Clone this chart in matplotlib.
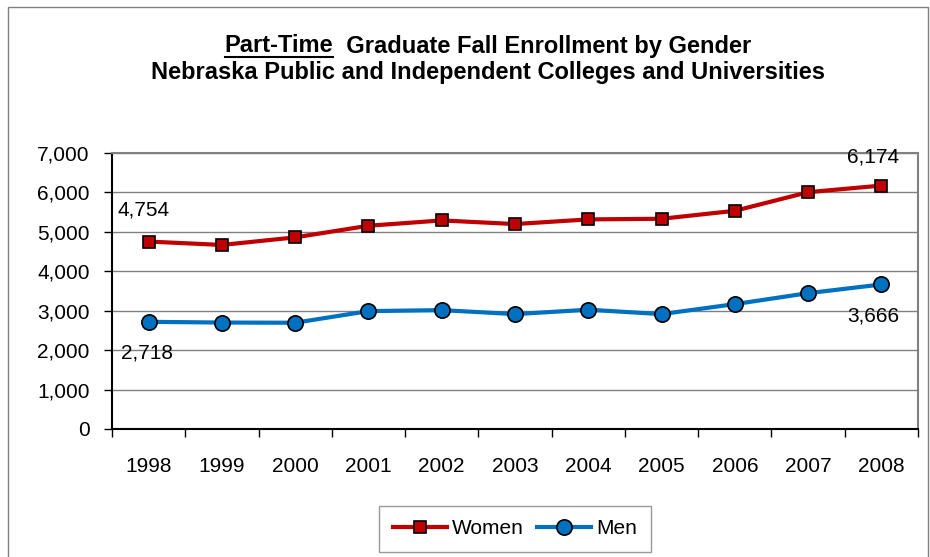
import numpy as np
import matplotlib.pyplot as plt
from matplotlib.lines import Line2D
from matplotlib.patches import Rectangle

plt.rcParams['font.family'] = ['Liberation Sans', 'DejaVu Sans']

years = ['1998', '1999', '2000', '2001', '2002', '2003', '2004', '2005', '2006', '2007', '2008']
women = [4754, 4668, 4860, 5155, 5290, 5198, 5316, 5332, 5534, 6006, 6174]
men = [2718, 2700, 2695, 2990, 3015, 2914, 3025, 2914, 3167, 3445, 3666]

W, H = 930, 557
fig = plt.figure(figsize=(W / 100, H / 100), dpi=100)

# outer chart border
fig.patches.append(Rectangle((8 / W, -0.01), (928 - 8) / W, 1 - 7 / H + 0.01,
                             transform=fig.transFigure, fill=False,
                             edgecolor='#808080', linewidth=1.0))

ax = fig.add_axes([112 / W, 1 - 429 / H, (918 - 112) / W, (429 - 153) / H])
x = np.arange(len(years))

ax.plot(x, women, color='#c00000', linewidth=3, marker='s', markersize=9,
        markerfacecolor='#c00000', markeredgecolor='black', markeredgewidth=1.2,
        label='Women', zorder=3)
ax.plot(x, men, color='#0070c0', linewidth=3, marker='o', markersize=11,
        markerfacecolor='#0070c0', markeredgecolor='black', markeredgewidth=1.2,
        label='Men', zorder=3)

fs = 15
ax.set_xlim(-0.5, len(years) - 0.5)
ax.set_ylim(0, 7000)
ax.set_yticks(range(0, 7001, 1000))
ax.set_yticklabels(['{:,}'.format(v) for v in range(0, 7001, 1000)], fontsize=fs)
ax.set_xticks(x)
ax.set_xticklabels(years, fontsize=fs)
ax.tick_params(axis='x', length=0, pad=20)
ax.set_xticks(np.arange(-0.5, len(years), 1), minor=True)
ax.tick_params(axis='x', which='minor', length=6, width=1, color='black')
ax.tick_params(axis='y', length=6, width=1, pad=10)
ax.grid(axis='y', color='#808080', linewidth=1)
ax.set_axisbelow(True)
for s in ['top', 'right']:
    ax.spines[s].set_color('#808080')
    ax.spines[s].set_linewidth(1.5)
for s in ['left', 'bottom']:
    ax.spines[s].set_color('black')
    ax.spines[s].set_linewidth(1.5)

# data labels for first and last years
ax.annotate('{:,}'.format(women[0]), (x[0], women[0]), xytext=(-3.6, 23),
            textcoords='offset points', ha='center', va='center', fontsize=fs)
ax.annotate('{:,}'.format(men[0]), (x[0], men[0]), xytext=(-1, -22.5),
            textcoords='offset points', ha='center', va='center', fontsize=fs)
ax.annotate('{:,}'.format(women[-1]), (x[-1], women[-1]), xytext=(-5.8, 20.5),
            textcoords='offset points', ha='center', va='center', fontsize=fs)
ax.annotate('{:,}'.format(men[-1]), (x[-1], men[-1]), xytext=(-5.8, -23),
            textcoords='offset points', ha='center', va='center', fontsize=fs)

# title with underlined "Part-Time"
fig.canvas.draw()
r = fig.canvas.get_renderer()
tfs = 17
t1 = fig.text(0, 1 - 46 / H, 'Part-Time', fontsize=tfs, fontweight='bold', va='center')
t2 = fig.text(0, 1 - 46 / H, '  Graduate Fall Enrollment by Gender', fontsize=tfs,
              fontweight='bold', va='center')
w1 = t1.get_window_extent(r).width
w2 = t2.get_window_extent(r).width
start = 488 - (w1 + w2) / 2
t1.set_x(start / W)
t2.set_x((start + w1) / W)
fig.add_artist(Line2D([start / W, (start + w1) / W], [1 - 57 / H, 1 - 57 / H],
                      transform=fig.transFigure, color='black', linewidth=1.5))
fig.text(488 / W, 1 - 72 / H, 'Nebraska Public and Independent Colleges and Universities',
         fontsize=tfs, fontweight='bold', ha='center', va='center')

leg = fig.legend(loc='center', bbox_to_anchor=(515 / W, 1 - 529 / H), ncol=2,
                 fontsize=fs, frameon=True, fancybox=False, edgecolor='#808080',
                 handlelength=2.6, columnspacing=0.6, handletextpad=0.25,
                 borderpad=0.65)
leg.get_frame().set_linewidth(1)

fig.savefig('out.png', dpi=100)
